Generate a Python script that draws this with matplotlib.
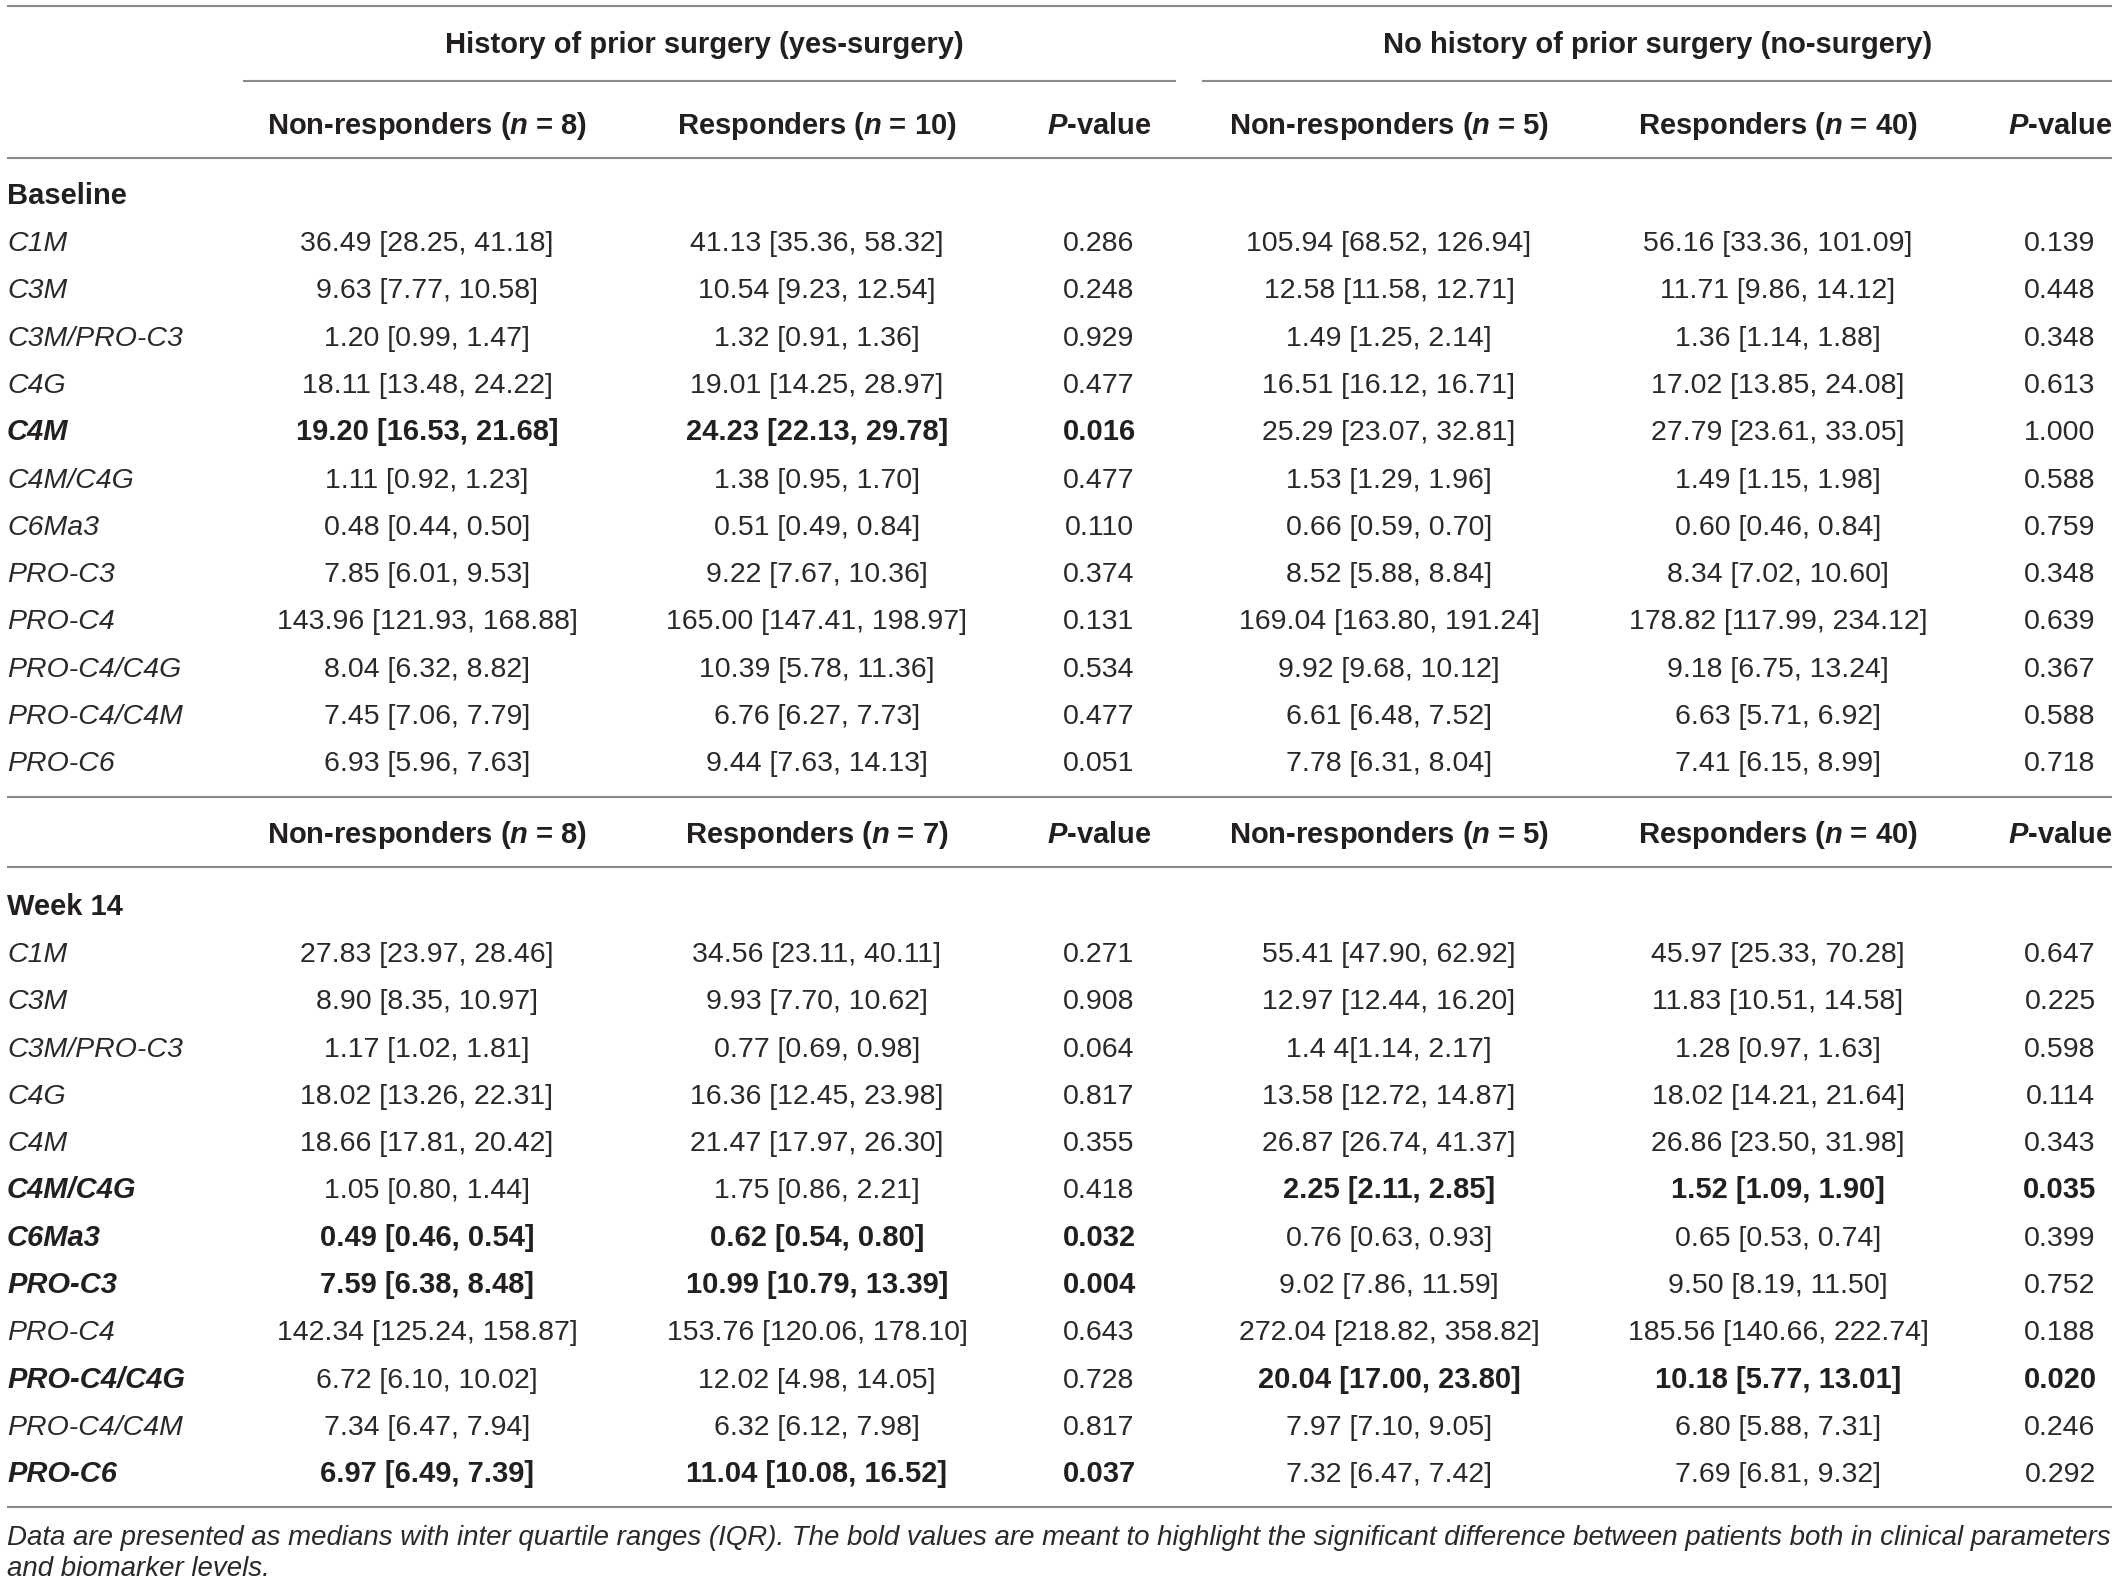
import matplotlib
matplotlib.use("Agg")
import matplotlib.pyplot as plt

# -------------------------------
# Table data
# -------------------------------
markers = ['C1M', 'C3M', 'C3M/PRO-C3', 'C4G', 'C4M', 'C4M/C4G', 'C6Ma3',
           'PRO-C3', 'PRO-C4', 'PRO-C4/C4G', 'PRO-C4/C4M', 'PRO-C6']

group_titles = ['History of prior surgery (yes-surgery)',
                'No history of prior surgery (no-surgery)']
header_base = ['Non-responders ($n$ = 8)', 'Responders ($n$ = 10)', '$P$-value',
               'Non-responders ($n$ = 5)', 'Responders ($n$ = 40)', '$P$-value']
header_week = ['Non-responders ($n$ = 8)', 'Responders ($n$ = 7)', '$P$-value',
               'Non-responders ($n$ = 5)', 'Responders ($n$ = 40)', '$P$-value']

base_yes_nr = ['36.49 [28.25, 41.18]', '9.63 [7.77, 10.58]', '1.20 [0.99, 1.47]',
               '18.11 [13.48, 24.22]', '19.20 [16.53, 21.68]', '1.11 [0.92, 1.23]',
               '0.48 [0.44, 0.50]', '7.85 [6.01, 9.53]', '143.96 [121.93, 168.88]',
               '8.04 [6.32, 8.82]', '7.45 [7.06, 7.79]', '6.93 [5.96, 7.63]']
base_yes_r = ['41.13 [35.36, 58.32]', '10.54 [9.23, 12.54]', '1.32 [0.91, 1.36]',
              '19.01 [14.25, 28.97]', '24.23 [22.13, 29.78]', '1.38 [0.95, 1.70]',
              '0.51 [0.49, 0.84]', '9.22 [7.67, 10.36]', '165.00 [147.41, 198.97]',
              '10.39 [5.78, 11.36]', '6.76 [6.27, 7.73]', '9.44 [7.63, 14.13]']
base_yes_p = ['0.286', '0.248', '0.929', '0.477', '0.016', '0.477',
              '0.110', '0.374', '0.131', '0.534', '0.477', '0.051']
base_no_nr = ['105.94 [68.52, 126.94]', '12.58 [11.58, 12.71]', '1.49 [1.25, 2.14]',
              '16.51 [16.12, 16.71]', '25.29 [23.07, 32.81]', '1.53 [1.29, 1.96]',
              '0.66 [0.59, 0.70]', '8.52 [5.88, 8.84]', '169.04 [163.80, 191.24]',
              '9.92 [9.68, 10.12]', '6.61 [6.48, 7.52]', '7.78 [6.31, 8.04]']
base_no_r = ['56.16 [33.36, 101.09]', '11.71 [9.86, 14.12]', '1.36 [1.14, 1.88]',
             '17.02 [13.85, 24.08]', '27.79 [23.61, 33.05]', '1.49 [1.15, 1.98]',
             '0.60 [0.46, 0.84]', '8.34 [7.02, 10.60]', '178.82 [117.99, 234.12]',
             '9.18 [6.75, 13.24]', '6.63 [5.71, 6.92]', '7.41 [6.15, 8.99]']
base_no_p = ['0.139', '0.448', '0.348', '0.613', '1.000', '0.588',
             '0.759', '0.348', '0.639', '0.367', '0.588', '0.718']
base_bold_yes = ['C4M']
base_bold_no = []

week_yes_nr = ['27.83 [23.97, 28.46]', '8.90 [8.35, 10.97]', '1.17 [1.02, 1.81]',
               '18.02 [13.26, 22.31]', '18.66 [17.81, 20.42]', '1.05 [0.80, 1.44]',
               '0.49 [0.46, 0.54]', '7.59 [6.38, 8.48]', '142.34 [125.24, 158.87]',
               '6.72 [6.10, 10.02]', '7.34 [6.47, 7.94]', '6.97 [6.49, 7.39]']
week_yes_r = ['34.56 [23.11, 40.11]', '9.93 [7.70, 10.62]', '0.77 [0.69, 0.98]',
              '16.36 [12.45, 23.98]', '21.47 [17.97, 26.30]', '1.75 [0.86, 2.21]',
              '0.62 [0.54, 0.80]', '10.99 [10.79, 13.39]', '153.76 [120.06, 178.10]',
              '12.02 [4.98, 14.05]', '6.32 [6.12, 7.98]', '11.04 [10.08, 16.52]']
week_yes_p = ['0.271', '0.908', '0.064', '0.817', '0.355', '0.418',
              '0.032', '0.004', '0.643', '0.728', '0.817', '0.037']
week_no_nr = ['55.41 [47.90, 62.92]', '12.97 [12.44, 16.20]', '1.4 4[1.14, 2.17]',
              '13.58 [12.72, 14.87]', '26.87 [26.74, 41.37]', '2.25 [2.11, 2.85]',
              '0.76 [0.63, 0.93]', '9.02 [7.86, 11.59]', '272.04 [218.82, 358.82]',
              '20.04 [17.00, 23.80]', '7.97 [7.10, 9.05]', '7.32 [6.47, 7.42]']
week_no_r = ['45.97 [25.33, 70.28]', '11.83 [10.51, 14.58]', '1.28 [0.97, 1.63]',
             '18.02 [14.21, 21.64]', '26.86 [23.50, 31.98]', '1.52 [1.09, 1.90]',
             '0.65 [0.53, 0.74]', '9.50 [8.19, 11.50]', '185.56 [140.66, 222.74]',
             '10.18 [5.77, 13.01]', '6.80 [5.88, 7.31]', '7.69 [6.81, 9.32]']
week_no_p = ['0.647', '0.225', '0.598', '0.114', '0.343', '0.035',
             '0.399', '0.752', '0.188', '0.020', '0.246', '0.292']
week_bold_yes = ['C6Ma3', 'PRO-C3', 'PRO-C6']
week_bold_no = ['C4M/C4G', 'PRO-C4/C4G']

footnote = ['Data are presented as medians with inter quartile ranges (IQR). The bold values are '
            'meant to highlight the significant difference between patients both in clinical parameters',
            'and biomarker levels.']

# -------------------------------
# Layout (pixel space)
# -------------------------------
W, H = 2118, 1589
TXT = '#231f20'
BODY_TXT = '#2b2829'
LINE = '#8a8a8a'
FONT = 'Liberation Sans'
FS_BOLD = 21
FS_BODY = 20.5
FS_FOOT = 19.9

col_x = [427, 817, 1099, 1389, 1778, 2060]
group_x = [704, 1658]
group_spans = [(243, 1176), (1202, 2112)]
left_x, right_x = 7, 2112
row_step = 47.3

plt.rcParams['mathtext.fontset'] = 'custom'
plt.rcParams['mathtext.it'] = FONT + ':italic:bold'
plt.rcParams['mathtext.rm'] = FONT + ':bold'
plt.rcParams['mathtext.bf'] = FONT + ':bold'

fig = plt.figure(figsize=(W / 100, H / 100), dpi=100)
ax = fig.add_axes([0, 0, 1, 1])
ax.set_xlim(0, W)
ax.set_ylim(H, 0)
ax.axis('off')


def hline(y, x0=left_x, x1=right_x):
    ax.plot([x0, x1], [y, y], color=LINE, lw=1.5, solid_capstyle='butt')


def put(x, y, s, ha='center', bold=False, italic=False):
    # y is the visual centre of capitals; shift to the baseline
    ax.text(x, y + 11, s, ha=ha, va='baseline',
            fontsize=FS_BOLD if bold else FS_BODY, family=FONT,
            weight='bold' if bold else 'normal',
            style='italic' if italic else 'normal',
            color=TXT if bold else BODY_TXT)


def block(title, title_y, first_y, cols, bold_yes, bold_no):
    put(left_x, title_y, title, ha='left', bold=True)
    for i, m in enumerate(markers):
        y = first_y + i * row_step
        by = m in bold_yes
        bn = m in bold_no
        put(left_x, y, m, ha='left', bold=(by or bn), italic=True)
        for j, c in enumerate(cols):
            put(col_x[j], y, c[i], bold=(by if j < 3 else bn))


# top rule and group headers
hline(6)
for gx, gt, (g0, g1) in zip(group_x, group_titles, group_spans):
    put(gx, 42, gt, bold=True)
    hline(81, g0, g1)
for x, h in zip(col_x, header_base):
    put(x, 123, h, bold=True)
hline(158)

block('Baseline', 193, 240,
      [base_yes_nr, base_yes_r, base_yes_p, base_no_nr, base_no_r, base_no_p],
      base_bold_yes, base_bold_no)

hline(797)
for x, h in zip(col_x, header_week):
    put(x, 832, h, bold=True)
hline(867)

block('Week 14', 904, 951,
      [week_yes_nr, week_yes_r, week_yes_p, week_no_nr, week_no_r, week_no_p],
      week_bold_yes, week_bold_no)

hline(1507)
for k, line in enumerate(footnote):
    ax.text(left_x, 1537 + k * 31 + 8, line, ha='left', va='baseline',
            fontsize=FS_FOOT, family=FONT, style='italic', color=BODY_TXT)

fig.savefig('out.png', dpi=100, facecolor='white')
